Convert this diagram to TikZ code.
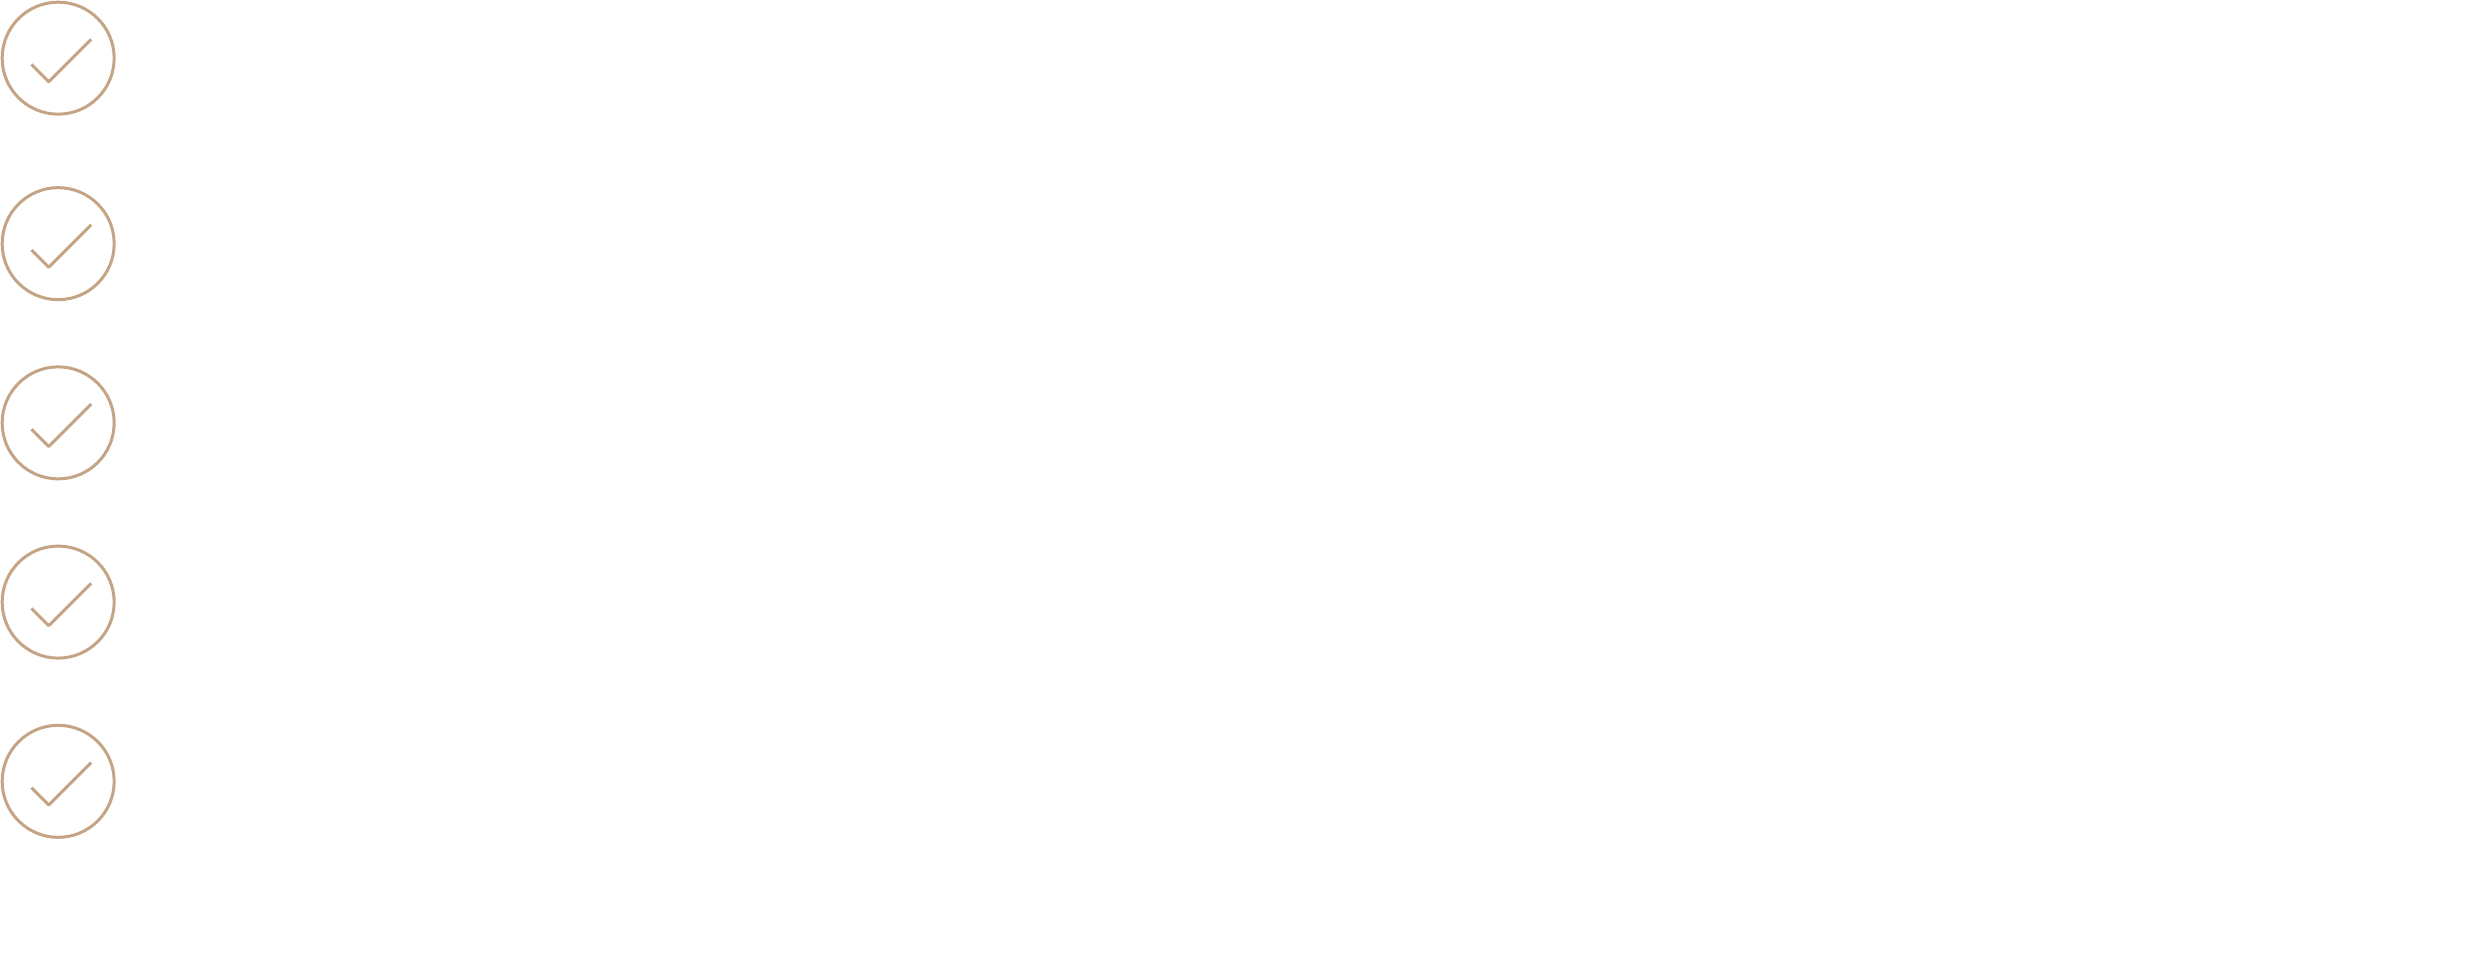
\documentclass[tikz,border=0pt]{standalone}
\definecolor{tan}{HTML}{C4A484}
\tikzset{tick/.style={draw = tan, line width = 3pt, circle, minimum size = 112pt, inner sep = 0pt}}
\begin{document}
\begin{tikzpicture}[x = 1.572pt, y = -1.572pt]

            \useasboundingbox (0, 0) rectangle (1568, 607);

            \foreach \y [count = \i] in {37, 155, 269, 383, 497} {
                \node (c\i) at (37, \y) [tick] {};
                \draw[tan, line width = 3pt, line join = round]
                    ([shift = {(-17, 4)}]c\i.center) -- ([shift = {(-6, 15)}]c\i.center) -- ([shift = {(21, -12)}]c\i.center);
            }
        \end{tikzpicture}
\end{document}
